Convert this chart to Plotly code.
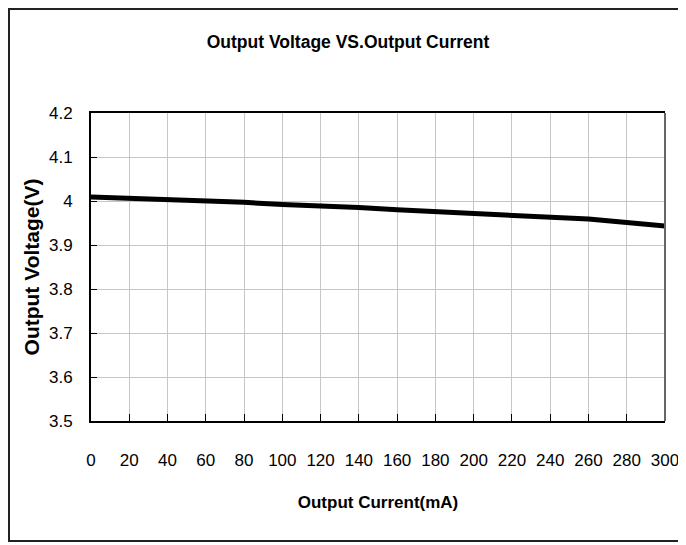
import plotly.graph_objects as go

current_ma = [0, 20, 40, 60, 80, 100, 120, 140, 160, 180, 200, 220, 240, 260, 280, 300]
voltage_v = [4.009, 4.006, 4.004, 4.001, 3.997, 3.992, 3.989, 3.985, 3.980, 3.976,
             3.971, 3.968, 3.965, 3.959, 3.951, 3.943]
x_ticks = list(range(0, 301, 20))
y_ticks = [3.5, 3.6, 3.7, 3.8, 3.9, 4.0, 4.1, 4.2]
y_tick_text = ["3.5", "3.6", "3.7", "3.8", "3.9", "4", "4.1", "4.2"]

FONT = "Liberation Sans, Arial, sans-serif"

# page has an 8px body margin, so the figure is sized/offset to compensate
W, H = 678, 537
ml, mt = 83, 105
pw, ph = 574, 308
mr, mb = W - ml - pw, H - mt - ph

fig = go.Figure()
fig.add_trace(go.Scatter(
    x=current_ma, y=voltage_v, mode="lines",
    line=dict(color="black", width=5), showlegend=False, hoverinfo="skip"))

fig.update_layout(
    width=W, height=H,
    margin=dict(l=ml, r=mr, t=mt, b=mb, autoexpand=False),
    paper_bgcolor="white", plot_bgcolor="white",
    title=dict(text="<b>Output Voltage VS.Output Current</b>",
               font=dict(family=FONT, size=17.5, color="black"),
               x=340 / W, xanchor="center", xref="container",
               y=1 - 34 / H, yanchor="middle", yref="container"),
    xaxis=dict(range=[0, 300], tickvals=x_ticks, ticks="inside", ticklen=7,
               tickcolor="black", tickwidth=1, automargin=False,
               showgrid=True, gridcolor="#c6c6c6", gridwidth=1.3,
               showline=True, linecolor="black", linewidth=2, mirror=True,
               zeroline=False, ticklabelstandoff=23,
               tickfont=dict(family=FONT, size=17, color="black"),
               title=dict(text="<b>Output Current(mA)</b>", standoff=27,
                          font=dict(family=FONT, size=17, color="black"))),
    yaxis=dict(range=[3.5, 4.2], tickvals=y_ticks, ticktext=y_tick_text,
               ticks="inside", ticklen=6, tickcolor="black", tickwidth=1,
               automargin=False,
               showgrid=True, gridcolor="#c6c6c6", gridwidth=1.3,
               showline=True, linecolor="black", linewidth=2,
               zeroline=False, ticklabelstandoff=13,
               tickfont=dict(family=FONT, size=17, color="black"),
               title=dict(text="<b>Output Voltage(V)</b>", standoff=4,
                          font=dict(family=FONT, size=21, color="black"))),
)

# right spine (dark gray)
fig.add_shape(type="line", xref="paper", yref="paper", x0=1, x1=1, y0=0, y1=1,
              line=dict(color="#666666", width=2), layer="above")
# outer figure border
fig.add_shape(type="rect", xref="paper", yref="paper",
              x0=(1 - ml) / pw, x1=(690 - ml) / pw,
              y0=(mt + ph - 533) / ph, y1=(mt + ph - 1) / ph,
              line=dict(color="#222222", width=2), fillcolor="rgba(0,0,0,0)")

fig.write_html("out.html")
